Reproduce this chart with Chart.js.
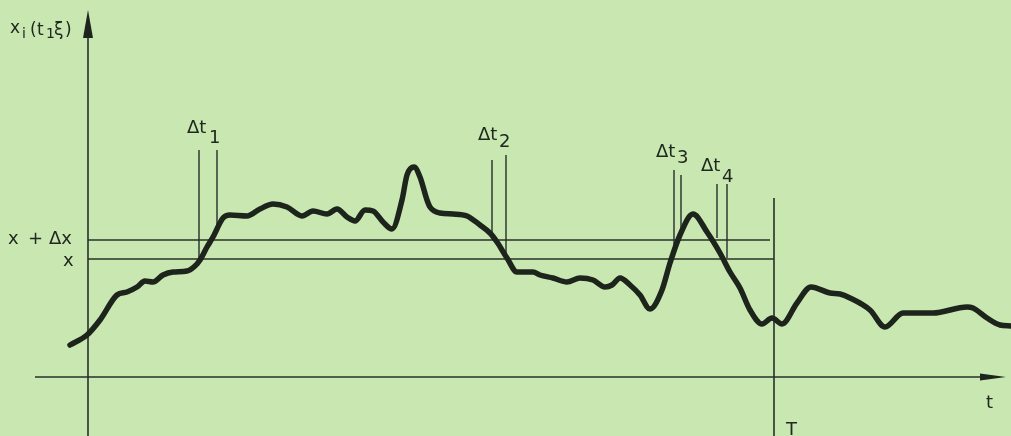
<!DOCTYPE html>
<html>
<head>
<meta charset="utf-8">
<script src="https://cdn.jsdelivr.net/npm/chart.js@4"></script>
<style>
  html, body { margin: 0; padding: 0; background: #c9e8b1; }
  #wrap { width: 1011px; height: 436px; position: relative; }
</style>
</head>
<body>
<div id="wrap"><canvas id="chart"></canvas></div>
<script>
// sample function x_i(t, xi)
var curveT = [-18, -1, 12, 29, 39, 49, 57, 65, 75, 85, 99, 107, 112, 119, 125, 135, 142, 159, 172, 185,
  199, 214, 225, 239, 249, 259, 267, 277, 285, 295, 304, 314, 319, 326, 332, 339, 342, 352, 365, 379,
  392, 402, 409, 419, 429, 445, 452, 465, 479, 492, 505, 517, 524, 532, 542, 552, 562, 574, 582, 592,
  605, 619, 632, 642, 652, 662, 674, 684, 694, 709, 723, 742, 752, 762, 782, 797, 815, 845, 879, 885,
  899, 912, 923];
var curveV = [32, 42, 57, 82, 85, 90, 96, 95, 102, 105, 106, 111, 117, 130, 140, 159, 162, 161, 168, 173,
  170, 161, 166, 163, 168, 160, 156, 167, 166, 155, 148, 177, 202, 210, 200, 177, 170, 164, 163, 161,
  152, 144, 135, 119, 105, 105, 102, 99, 95, 99, 97, 90, 92, 99, 92, 82, 68, 87, 114, 142,
  163, 145, 124, 105, 89, 67, 53, 59, 53, 74, 90, 84, 83, 79, 67, 50, 64, 64, 70, 69,
  59, 52, 51];

// levels x and x + dx
var levelValues = [118, 137];
var levelEnds = [686, 682];

// dt1..dt4 interval markers
var markerT = [111, 129, 404, 418, 586, 593, 629, 639];
var markerTop = [227, 227, 217, 222, 207, 202, 193, 193];
var markerBottom = [117, 152, 140, 118, 120, 147, 139, 119];

// period T
var periodT = 686;
var periodTop = 179;

var ink = "#1c241c";
var thin = "#27302a";

var datasets = [];
datasets.push({
  data: curveT.map(function (t, i) { return { x: t, y: curveV[i] }; }),
  borderColor: ink, borderWidth: 5.5, pointRadius: 0,
  cubicInterpolationMode: "monotone", borderCapStyle: "round", borderJoinStyle: "round"
});
levelValues.forEach(function (v, i) {
  datasets.push({ data: [{ x: 0, y: v }, { x: levelEnds[i], y: v }], borderColor: thin, borderWidth: 1.6, pointRadius: 0 });
});
markerT.forEach(function (t, i) {
  datasets.push({ data: [{ x: t, y: markerTop[i] }, { x: t, y: markerBottom[i] }], borderColor: thin, borderWidth: 1.4, pointRadius: 0 });
});
datasets.push({ data: [{ x: periodT, y: periodTop }, { x: periodT, y: -59 }], borderColor: thin, borderWidth: 1.6, pointRadius: 0 });
// axes
datasets.push({ data: [{ x: -53, y: 0 }, { x: 905, y: 0 }], borderColor: thin, borderWidth: 1.6, pointRadius: 0 });
datasets.push({ data: [{ x: 0, y: -59 }, { x: 0, y: 345 }], borderColor: thin, borderWidth: 1.6, pointRadius: 0 });

var decor = {
  id: "decor",
  afterDraw: function (chart) {
    var c = chart.ctx, sx = chart.scales.x, sy = chart.scales.y;
    c.save();
    c.fillStyle = ink;
    // arrow heads
    var ox = sx.getPixelForValue(0), oy = sy.getPixelForValue(0);
    var ty = sy.getPixelForValue(367);
    c.beginPath(); c.moveTo(ox, ty); c.lineTo(ox - 5, ty + 28); c.lineTo(ox + 5, ty + 28); c.closePath(); c.fill();
    var tx = sx.getPixelForValue(918);
    c.beginPath(); c.moveTo(tx, oy); c.lineTo(tx - 26, oy - 3.5); c.lineTo(tx - 26, oy + 3.5); c.closePath(); c.fill();

    function txt(s, x, y, size) {
      c.font = (size || 18) + "px 'DejaVu Sans'";
      c.fillText(s, x, y);
    }
    c.fillStyle = "#20281f";
    c.textBaseline = "alphabetic";
    // y label x_i(t1 xi)
    txt("x", 10, 33, 17);
    txt("i", 22, 38, 14);
    txt("(", 30, 35, 17);
    txt("t", 37, 35, 17);
    txt("1", 46, 38, 14);
    txt("ξ", 54, 35, 17);
    txt(")", 65, 35, 17);
    // level labels
    txt("x", 8, 244);
    txt("+", 28, 244);
    txt("Δx", 49, 244);
    txt("x", 63, 266);
    // dt labels
    txt("Δt", 187, 133); txt("1", 209, 143);
    txt("Δt", 478, 140); txt("2", 499, 147);
    txt("Δt", 656, 157); txt("3", 677, 163);
    txt("Δt", 701, 171); txt("4", 722, 182);
    // axis labels
    txt("t", 986, 408);
    txt("T", 786, 435);
    c.restore();
  }
};

new Chart(document.getElementById("chart"), {
  type: "line",
  data: { datasets: datasets },
  options: {
    responsive: true,
    maintainAspectRatio: false,
    animation: false,
    layout: { padding: 0 },
    plugins: { legend: { display: false }, tooltip: { enabled: false } },
    scales: {
      x: { type: "linear", min: -88, max: 923, display: false },
      y: { type: "linear", min: -59, max: 377, display: false }
    }
  },
  plugins: [decor]
});
</script>
</body>
</html>
